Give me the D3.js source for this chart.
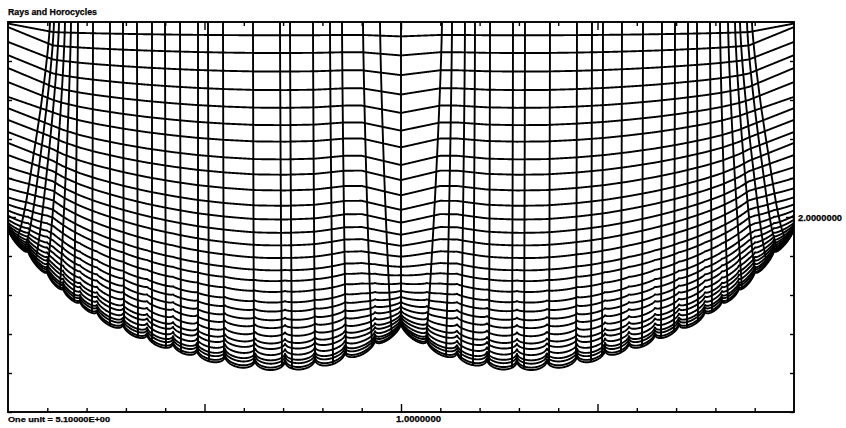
<!DOCTYPE html>
<html>
<head>
<meta charset="utf-8">
<script src="https://cdn.jsdelivr.net/npm/d3@7"></script>
<style>
body { margin: 0; background: #fff; }
text { font-family: "Liberation Sans", Arial, sans-serif; font-weight: bold; fill: #000; stroke: #000; stroke-width: 0.25; }
.grid path { fill: none; stroke: #000; stroke-width: 1.9; stroke-linejoin: round; }
.tick line { stroke: #000; stroke-width: 1.4; }
</style>
</head>
<body>
<svg id="chart" width="846" height="428"></svg>
<script>
// horocycle heights read down the column x = 0.49
var horoMidY = [2.467, 2.423, 2.377, 2.331, 2.287, 2.244, 2.203, 2.159, 2.121, 2.082,
    2.044, 2.010, 1.977, 1.946, 1.915, 1.885, 1.859, 1.833, 1.808, 1.787,
    1.767, 1.749, 1.731, 1.715, 1.703, 1.690, 1.679, 1.672, 1.664, 1.659];
// where the same horocycles meet the left / right frame
var horoEdgeY = [2.496, 2.487, 2.449, 2.415, 2.382, 2.346, 2.308, 2.279, 2.249, 2.218,
    2.190, 2.159, 2.128, 2.100, 2.074, 2.051, 2.033, 2.018, 2.005, 1.995,
    1.987, 1.982, 1.978, 1.976, 1.974, 1.973, 1.973, 1.972, 1.972, 1.972];

// scallop junctions along the lower boundary, left half (the picture is symmetric about x = 1)
var scallopX = [0, 0.0509, 0.0992, 0.1399, 0.1832, 0.2265, 0.2926, 0.3537, 0.4198,
    0.4809, 0.5522, 0.6285, 0.7048, 0.7812, 0.8575, 0.9338, 1.0];
var scallopY = [1.972, 1.910, 1.859, 1.818, 1.785, 1.759, 1.726, 1.700, 1.677,
    1.659, 1.644, 1.633, 1.631, 1.636, 1.654, 1.685, 1.728];

// rays: where they cross the upper part, and where they land on the boundary
var rayTopX = [0.1069, 0.1170, 0.1298, 0.1450, 0.1603, 0.1781, 0.2163, 0.2595, 0.2926, 0.3282,
    0.3664, 0.3995, 0.4377, 0.4835, 0.5089, 0.5471, 0.6234, 0.6921, 0.7176, 0.7761,
    0.8193, 0.8499, 0.9033, 0.9466, 1.0,
    1.1043, 1.1298, 1.1628, 1.1883, 1.2265, 1.2850, 1.3155, 1.3791, 1.4478, 1.4860,
    1.5140, 1.5623, 1.6158, 1.6641, 1.6972, 1.7303, 1.7532, 1.7863, 1.8117, 1.8321,
    1.8499, 1.8626, 1.8804, 1.8931];
var rayEndX = [0.0153, 0.0407, 0.0687, 0.0992, 0.1323, 0.1679, 0.2137, 0.2595, 0.2952, 0.3308,
    0.3664, 0.4020, 0.4402, 0.4835, 0.5115, 0.5496, 0.6260, 0.6972, 0.7226, 0.7812,
    0.8270, 0.8601, 0.9262, 0.9771, 1.0,
    1.0636, 1.1145, 1.1527, 1.1832, 1.2239, 1.2824, 1.3130, 1.3766, 1.4453, 1.4835,
    1.5115, 1.5598, 1.6132, 1.6616, 1.6947, 1.7277, 1.7557, 1.7913, 1.8321, 1.8677,
    1.9008, 1.9313, 1.9593, 1.9847];

var xTicks = d3.range(0, 2.0001, 0.1);
var yTicks = d3.range(1.5, 2.5001, 0.1);

var svg = d3.select("#chart");
var x = d3.scaleLinear().domain([0, 2]).range([8, 794]);
var y = d3.scaleLinear().domain([1.5, 2.5]).range([412, 22]);

var yTop = 2.5;
var edgeZone = 0.1145;
var yDeep = horoMidY[horoMidY.length - 1];
var levelF = horoMidY.map(function (v) { return (yTop - v) / (yTop - yDeep); });
var edgeAt = d3.scaleLinear().domain([0].concat(levelF)).range([yTop].concat(horoEdgeY)).clamp(true);

var jx = scallopX.concat(scallopX.slice(0, -1).reverse().map(function (v) { return 2 - v; }));
var jy = scallopY.concat(scallopY.slice(0, -1).reverse());
var envelope = d3.scaleLinear().domain(jx).range(jy);
// same profile with the central cusp taken out, for the upper horocycles
var keep = jx.map(function (v) { return Math.abs(v - 1) > 0.12; });
var flatEnv = d3.scaleLinear()
    .domain(jx.filter(function (v, i) { return keep[i]; }))
    .range(jy.filter(function (v, i) { return keep[i]; }));

function scallop(xd) {
    var i = d3.bisectRight(jx, xd) - 1;
    if (i < 0 || i >= jx.length - 1) return 0;
    var a = jx[i], b = jx[i + 1];
    var u = (xd - (a + b) / 2) / ((b - a) / 2);
    return 0.32 * (b - a) * Math.sqrt(Math.max(0, 1 - u * u));
}

function inner(xd, f) {
    var tent = Math.max(0, 1 - Math.abs(xd - 1) / 0.1);
    return yTop + (flatEnv(xd) - yTop) * f
        + (envelope(xd) - flatEnv(xd)) * Math.pow(f, 6)
        - 0.1 * f * (1 - f) * tent;
}

function levelY(xd, f) {
    var v, t;
    if (xd < edgeZone) {
        t = xd / edgeZone;
        v = edgeAt(f) + (inner(edgeZone, f) - edgeAt(f)) * t;
    } else if (xd > 2 - edgeZone) {
        t = (2 - xd) / edgeZone;
        v = edgeAt(f) + (inner(2 - edgeZone, f) - edgeAt(f)) * t;
    } else {
        v = inner(xd, f);
    }
    return v - scallop(xd) * Math.pow(f, 8);
}

svg.append("clipPath").attr("id", "box")
    .append("rect")
    .attr("x", x(0)).attr("y", y(2.5))
    .attr("width", x(2) - x(0)).attr("height", y(1.5) - y(2.5));

var line = d3.line()
    .x(function (d) { return x(d[0]); })
    .y(function (d) { return y(d[1]); });

var grid = svg.append("g").attr("class", "grid").attr("clip-path", "url(#box)");

// horocycles
var xs = d3.range(0, 2.0001, 0.001);
grid.selectAll("path.horo")
    .data(levelF)
    .enter().append("path")
    .attr("class", "horo")
    .attr("d", function (f) {
        return line(xs.map(function (xd) { return [xd, levelY(xd, f)]; }));
    });

// rays
var fs = d3.range(0, 1.0001, 0.01);
grid.selectAll("path.ray")
    .data(d3.range(rayTopX.length))
    .enter().append("path")
    .attr("class", "ray")
    .attr("d", function (i) {
        var a = rayTopX[i], b = rayEndX[i];
        return line(fs.map(function (f) {
            var xd = a + (b - a) * Math.pow(f, 1.3);
            return [xd, levelY(xd, f)];
        }));
    });

// frame and ticks
svg.append("rect")
    .attr("x", x(0)).attr("y", y(2.5))
    .attr("width", x(2) - x(0)).attr("height", y(1.5) - y(2.5))
    .attr("fill", "none").attr("stroke", "#000").attr("stroke-width", 1.9);

function ticks(axis, tx, ty) {
    var g = svg.append("g").attr("transform", "translate(" + tx + "," + ty + ")").call(axis);
    g.select(".domain").remove();
}
var minorX = xTicks.filter(function (v) { return Math.abs(v * 2 - Math.round(v * 2)) > 1e-6; });
var majorX = [0.5, 1.0, 1.5];
ticks(d3.axisBottom(x).tickValues(minorX).tickSize(-4).tickFormat(""), 0, y(1.5));
ticks(d3.axisBottom(x).tickValues(majorX).tickSize(-8).tickFormat(""), 0, y(1.5));
ticks(d3.axisTop(x).tickValues(minorX).tickSize(-4).tickFormat(""), 0, y(2.5));
ticks(d3.axisTop(x).tickValues(majorX).tickSize(-8).tickFormat(""), 0, y(2.5));
var minorY = yTicks.filter(function (v) { return Math.abs(v - 2) > 1e-6; });
ticks(d3.axisLeft(y).tickValues(minorY).tickSize(-4).tickFormat(""), x(0), 0);
ticks(d3.axisLeft(y).tickValues([2.0]).tickSize(-8).tickFormat(""), x(0), 0);
ticks(d3.axisRight(y).tickValues(minorY).tickSize(-4).tickFormat(""), x(2), 0);
ticks(d3.axisRight(y).tickValues([2.0]).tickSize(-8).tickFormat(""), x(2), 0);

// labels
svg.append("text").attr("x", 8).attr("y", 15)
    .style("font-size", "9.5px")
    .attr("textLength", 89).attr("lengthAdjust", "spacingAndGlyphs")
    .text("Rays and Horocycles");
svg.append("text").attr("x", 8).attr("y", 422)
    .style("font-size", "7.5px")
    .attr("textLength", 102).attr("lengthAdjust", "spacingAndGlyphs")
    .text("One unit = 5.10000E+00");
svg.append("text").attr("x", x(1) - 5).attr("y", 422)
    .style("font-size", "9px")
    .attr("textLength", 45).attr("lengthAdjust", "spacingAndGlyphs")
    .text("1.0000000");
svg.append("text").attr("x", x(2) + 4).attr("y", y(2) + 4)
    .style("font-size", "8.5px")
    .attr("textLength", 44).attr("lengthAdjust", "spacingAndGlyphs")
    .text("2.0000000");
</script>
</body>
</html>
